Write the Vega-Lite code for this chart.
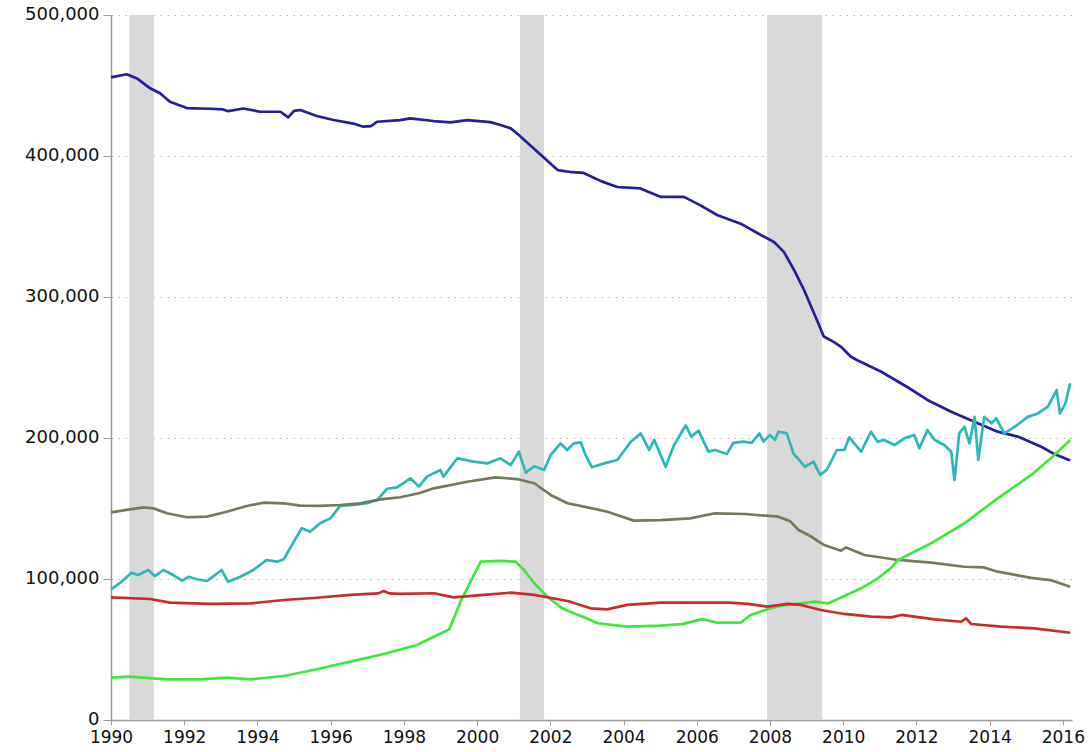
{
  "$schema": "https://vega.github.io/schema/vega-lite/v6.json",
  "autosize": {"type": "none"},
  "width": 961,
  "height": 705,
  "padding": {"left": 111, "top": 15, "right": 20, "bottom": 32},
  "background": "white",
  "config": {
    "view": {"stroke": null},
    "axis": {"labelFont": "DejaVu Sans", "labelColor": "#111111", "domainColor": "#9a9a9a", "tickColor": "#9a9a9a", "domainWidth": 1.5}
  },
  "datasets": {
    "rec": [
      {"start": 1990.5, "end": 1991.17},
      {"start": 2001.17, "end": 2001.83},
      {"start": 2007.92, "end": 2009.42}
    ],
    "series": [
      {"s": "A", "t": 1990.0, "v": 455800}, {"s": "A", "t": 1990.43, "v": 458000}, {"s": "A", "t": 1990.71, "v": 455000},
      {"s": "A", "t": 1991.07, "v": 448000}, {"s": "A", "t": 1991.34, "v": 444500}, {"s": "A", "t": 1991.61, "v": 438500},
      {"s": "A", "t": 1992.07, "v": 434000}, {"s": "A", "t": 1992.71, "v": 433500}, {"s": "A", "t": 1993.06, "v": 433000},
      {"s": "A", "t": 1993.2, "v": 431800}, {"s": "A", "t": 1993.61, "v": 433700}, {"s": "A", "t": 1994.07, "v": 431400},
      {"s": "A", "t": 1994.63, "v": 431400}, {"s": "A", "t": 1994.84, "v": 427400}, {"s": "A", "t": 1995.0, "v": 432000},
      {"s": "A", "t": 1995.17, "v": 432600}, {"s": "A", "t": 1995.62, "v": 428400}, {"s": "A", "t": 1996.08, "v": 425500},
      {"s": "A", "t": 1996.62, "v": 423000}, {"s": "A", "t": 1996.89, "v": 420800}, {"s": "A", "t": 1997.1, "v": 421200},
      {"s": "A", "t": 1997.27, "v": 424300}, {"s": "A", "t": 1997.9, "v": 425500}, {"s": "A", "t": 1998.17, "v": 426700},
      {"s": "A", "t": 1998.81, "v": 424800}, {"s": "A", "t": 1999.27, "v": 423900}, {"s": "A", "t": 1999.73, "v": 425500},
      {"s": "A", "t": 2000.36, "v": 424000}, {"s": "A", "t": 2000.64, "v": 422000}, {"s": "A", "t": 2000.92, "v": 419600},
      {"s": "A", "t": 2001.14, "v": 414900}, {"s": "A", "t": 2001.54, "v": 405500}, {"s": "A", "t": 2002.2, "v": 390000},
      {"s": "A", "t": 2002.6, "v": 388500}, {"s": "A", "t": 2002.91, "v": 388000}, {"s": "A", "t": 2003.4, "v": 382000},
      {"s": "A", "t": 2003.83, "v": 378000}, {"s": "A", "t": 2004.46, "v": 377000}, {"s": "A", "t": 2005.02, "v": 371000},
      {"s": "A", "t": 2005.65, "v": 371000}, {"s": "A", "t": 2006.1, "v": 365000}, {"s": "A", "t": 2006.57, "v": 358000},
      {"s": "A", "t": 2007.2, "v": 352000}, {"s": "A", "t": 2007.75, "v": 344000}, {"s": "A", "t": 2008.11, "v": 339000},
      {"s": "A", "t": 2008.38, "v": 332000}, {"s": "A", "t": 2008.66, "v": 319000}, {"s": "A", "t": 2008.93, "v": 305000},
      {"s": "A", "t": 2009.2, "v": 288600}, {"s": "A", "t": 2009.47, "v": 272000}, {"s": "A", "t": 2009.75, "v": 268000},
      {"s": "A", "t": 2009.94, "v": 264700}, {"s": "A", "t": 2010.21, "v": 257600}, {"s": "A", "t": 2010.4, "v": 255000},
      {"s": "A", "t": 2011.04, "v": 247000}, {"s": "A", "t": 2011.76, "v": 236000}, {"s": "A", "t": 2012.3, "v": 227000},
      {"s": "A", "t": 2012.95, "v": 218600}, {"s": "A", "t": 2013.58, "v": 211600}, {"s": "A", "t": 2014.22, "v": 204500},
      {"s": "A", "t": 2014.77, "v": 201000}, {"s": "A", "t": 2015.41, "v": 193800}, {"s": "A", "t": 2015.77, "v": 188600},
      {"s": "A", "t": 2016.2, "v": 184000},

      {"s": "B", "t": 1990.0, "v": 92700}, {"s": "B", "t": 1990.24, "v": 97000}, {"s": "B", "t": 1990.56, "v": 104500},
      {"s": "B", "t": 1990.74, "v": 102800}, {"s": "B", "t": 1991.02, "v": 106400}, {"s": "B", "t": 1991.2, "v": 102000},
      {"s": "B", "t": 1991.43, "v": 106400}, {"s": "B", "t": 1991.7, "v": 102800}, {"s": "B", "t": 1991.94, "v": 98800},
      {"s": "B", "t": 1992.12, "v": 101600}, {"s": "B", "t": 1992.35, "v": 99800}, {"s": "B", "t": 1992.62, "v": 98600},
      {"s": "B", "t": 1992.84, "v": 102800}, {"s": "B", "t": 1993.02, "v": 106400}, {"s": "B", "t": 1993.2, "v": 98000},
      {"s": "B", "t": 1993.53, "v": 101600}, {"s": "B", "t": 1993.89, "v": 106400}, {"s": "B", "t": 1994.25, "v": 113500},
      {"s": "B", "t": 1994.54, "v": 112300}, {"s": "B", "t": 1994.72, "v": 114000}, {"s": "B", "t": 1994.94, "v": 124000},
      {"s": "B", "t": 1995.21, "v": 136000}, {"s": "B", "t": 1995.44, "v": 133500}, {"s": "B", "t": 1995.71, "v": 139500},
      {"s": "B", "t": 1995.99, "v": 143000}, {"s": "B", "t": 1996.26, "v": 151800}, {"s": "B", "t": 1996.63, "v": 152500},
      {"s": "B", "t": 1996.99, "v": 153700}, {"s": "B", "t": 1997.27, "v": 156000}, {"s": "B", "t": 1997.54, "v": 164000},
      {"s": "B", "t": 1997.81, "v": 165000}, {"s": "B", "t": 1998.18, "v": 171400}, {"s": "B", "t": 1998.41, "v": 165500},
      {"s": "B", "t": 1998.63, "v": 172600}, {"s": "B", "t": 1999.0, "v": 177300}, {"s": "B", "t": 1999.08, "v": 172600},
      {"s": "B", "t": 1999.46, "v": 185600}, {"s": "B", "t": 1999.91, "v": 183200}, {"s": "B", "t": 2000.28, "v": 182000},
      {"s": "B", "t": 2000.64, "v": 185600}, {"s": "B", "t": 2000.92, "v": 180800}, {"s": "B", "t": 2001.14, "v": 190300},
      {"s": "B", "t": 2001.33, "v": 175400}, {"s": "B", "t": 2001.56, "v": 180000}, {"s": "B", "t": 2001.83, "v": 177300},
      {"s": "B", "t": 2002.01, "v": 188000}, {"s": "B", "t": 2002.28, "v": 196200}, {"s": "B", "t": 2002.46, "v": 191500},
      {"s": "B", "t": 2002.64, "v": 196200}, {"s": "B", "t": 2002.83, "v": 197000}, {"s": "B", "t": 2002.96, "v": 188000},
      {"s": "B", "t": 2003.14, "v": 179200}, {"s": "B", "t": 2003.47, "v": 182000}, {"s": "B", "t": 2003.83, "v": 184400},
      {"s": "B", "t": 2004.2, "v": 197400}, {"s": "B", "t": 2004.47, "v": 203300}, {"s": "B", "t": 2004.7, "v": 191500},
      {"s": "B", "t": 2004.84, "v": 198600}, {"s": "B", "t": 2005.15, "v": 179600}, {"s": "B", "t": 2005.38, "v": 195000},
      {"s": "B", "t": 2005.7, "v": 209000}, {"s": "B", "t": 2005.85, "v": 201000}, {"s": "B", "t": 2006.05, "v": 205200},
      {"s": "B", "t": 2006.32, "v": 190300}, {"s": "B", "t": 2006.5, "v": 191500}, {"s": "B", "t": 2006.64, "v": 190300},
      {"s": "B", "t": 2006.82, "v": 188600}, {"s": "B", "t": 2007.0, "v": 196600}, {"s": "B", "t": 2007.28, "v": 197400},
      {"s": "B", "t": 2007.5, "v": 196600}, {"s": "B", "t": 2007.71, "v": 203300}, {"s": "B", "t": 2007.82, "v": 197400},
      {"s": "B", "t": 2008.0, "v": 202100}, {"s": "B", "t": 2008.14, "v": 198600}, {"s": "B", "t": 2008.23, "v": 204500},
      {"s": "B", "t": 2008.46, "v": 203300}, {"s": "B", "t": 2008.64, "v": 189100}, {"s": "B", "t": 2008.96, "v": 179600},
      {"s": "B", "t": 2009.19, "v": 183200}, {"s": "B", "t": 2009.37, "v": 173800}, {"s": "B", "t": 2009.55, "v": 177300},
      {"s": "B", "t": 2009.83, "v": 191500}, {"s": "B", "t": 2010.03, "v": 191500}, {"s": "B", "t": 2010.17, "v": 200500},
      {"s": "B", "t": 2010.3, "v": 196200}, {"s": "B", "t": 2010.49, "v": 190300}, {"s": "B", "t": 2010.76, "v": 204500},
      {"s": "B", "t": 2010.94, "v": 197400}, {"s": "B", "t": 2011.12, "v": 198600}, {"s": "B", "t": 2011.4, "v": 195000},
      {"s": "B", "t": 2011.67, "v": 199800}, {"s": "B", "t": 2011.94, "v": 202100}, {"s": "B", "t": 2012.08, "v": 192700},
      {"s": "B", "t": 2012.3, "v": 205700}, {"s": "B", "t": 2012.5, "v": 198600}, {"s": "B", "t": 2012.76, "v": 195000},
      {"s": "B", "t": 2012.95, "v": 190300}, {"s": "B", "t": 2013.04, "v": 170200}, {"s": "B", "t": 2013.17, "v": 203300},
      {"s": "B", "t": 2013.31, "v": 208000}, {"s": "B", "t": 2013.45, "v": 196200}, {"s": "B", "t": 2013.59, "v": 215000},
      {"s": "B", "t": 2013.69, "v": 184400}, {"s": "B", "t": 2013.85, "v": 215000}, {"s": "B", "t": 2014.05, "v": 210400},
      {"s": "B", "t": 2014.18, "v": 214000}, {"s": "B", "t": 2014.4, "v": 203300}, {"s": "B", "t": 2014.69, "v": 208000},
      {"s": "B", "t": 2015.04, "v": 215000}, {"s": "B", "t": 2015.32, "v": 217400}, {"s": "B", "t": 2015.59, "v": 222200},
      {"s": "B", "t": 2015.83, "v": 234000}, {"s": "B", "t": 2015.92, "v": 217400}, {"s": "B", "t": 2016.07, "v": 224600},
      {"s": "B", "t": 2016.2, "v": 238800},

      {"s": "C", "t": 1990.0, "v": 147300}, {"s": "C", "t": 1990.43, "v": 149000}, {"s": "C", "t": 1990.89, "v": 150800},
      {"s": "C", "t": 1991.16, "v": 150100}, {"s": "C", "t": 1991.53, "v": 146600}, {"s": "C", "t": 1992.07, "v": 143800},
      {"s": "C", "t": 1992.62, "v": 144200}, {"s": "C", "t": 1993.16, "v": 147700}, {"s": "C", "t": 1993.71, "v": 151800},
      {"s": "C", "t": 1994.16, "v": 154100}, {"s": "C", "t": 1994.72, "v": 153700}, {"s": "C", "t": 1995.17, "v": 152000},
      {"s": "C", "t": 1995.71, "v": 151800}, {"s": "C", "t": 1996.26, "v": 152500}, {"s": "C", "t": 1996.81, "v": 153700},
      {"s": "C", "t": 1997.36, "v": 156500}, {"s": "C", "t": 1997.9, "v": 158000}, {"s": "C", "t": 1998.41, "v": 160800},
      {"s": "C", "t": 1998.82, "v": 164300}, {"s": "C", "t": 1999.73, "v": 169000}, {"s": "C", "t": 2000.5, "v": 172100},
      {"s": "C", "t": 2001.09, "v": 170900}, {"s": "C", "t": 2001.56, "v": 167900}, {"s": "C", "t": 2002.01, "v": 159600},
      {"s": "C", "t": 2002.47, "v": 153700}, {"s": "C", "t": 2002.92, "v": 151300}, {"s": "C", "t": 2003.56, "v": 147700},
      {"s": "C", "t": 2004.28, "v": 141400}, {"s": "C", "t": 2005.02, "v": 141800}, {"s": "C", "t": 2005.82, "v": 143000},
      {"s": "C", "t": 2006.5, "v": 146600}, {"s": "C", "t": 2007.32, "v": 146100}, {"s": "C", "t": 2008.23, "v": 144200},
      {"s": "C", "t": 2008.55, "v": 141000}, {"s": "C", "t": 2008.78, "v": 134800}, {"s": "C", "t": 2009.1, "v": 130500},
      {"s": "C", "t": 2009.48, "v": 124100}, {"s": "C", "t": 2009.94, "v": 120100}, {"s": "C", "t": 2010.08, "v": 122400},
      {"s": "C", "t": 2010.58, "v": 117000}, {"s": "C", "t": 2011.5, "v": 113500}, {"s": "C", "t": 2012.4, "v": 111600},
      {"s": "C", "t": 2013.31, "v": 108700}, {"s": "C", "t": 2013.85, "v": 108200}, {"s": "C", "t": 2014.22, "v": 105200},
      {"s": "C", "t": 2015.14, "v": 100800}, {"s": "C", "t": 2015.7, "v": 99000}, {"s": "C", "t": 2016.2, "v": 94500},

      {"s": "D", "t": 1990.0, "v": 30000}, {"s": "D", "t": 1990.52, "v": 30700}, {"s": "D", "t": 1991.52, "v": 28800},
      {"s": "D", "t": 1992.44, "v": 28800}, {"s": "D", "t": 1993.16, "v": 30000}, {"s": "D", "t": 1993.8, "v": 28800},
      {"s": "D", "t": 1994.72, "v": 31200}, {"s": "D", "t": 1995.62, "v": 36000}, {"s": "D", "t": 1996.54, "v": 41400},
      {"s": "D", "t": 1997.45, "v": 46800}, {"s": "D", "t": 1998.36, "v": 53200}, {"s": "D", "t": 1998.82, "v": 59100},
      {"s": "D", "t": 1999.24, "v": 64300}, {"s": "D", "t": 1999.57, "v": 85100}, {"s": "D", "t": 1999.84, "v": 99000},
      {"s": "D", "t": 2000.1, "v": 112300}, {"s": "D", "t": 2000.64, "v": 112800}, {"s": "D", "t": 2001.05, "v": 112300},
      {"s": "D", "t": 2001.28, "v": 106400}, {"s": "D", "t": 2001.56, "v": 97000}, {"s": "D", "t": 2001.92, "v": 87500},
      {"s": "D", "t": 2002.28, "v": 80000}, {"s": "D", "t": 2002.47, "v": 77500}, {"s": "D", "t": 2002.92, "v": 72800},
      {"s": "D", "t": 2003.3, "v": 68600}, {"s": "D", "t": 2004.1, "v": 66200}, {"s": "D", "t": 2005.02, "v": 66900},
      {"s": "D", "t": 2005.6, "v": 68000}, {"s": "D", "t": 2006.15, "v": 71500}, {"s": "D", "t": 2006.57, "v": 69000},
      {"s": "D", "t": 2007.2, "v": 69000}, {"s": "D", "t": 2007.47, "v": 74500}, {"s": "D", "t": 2007.93, "v": 78500},
      {"s": "D", "t": 2008.29, "v": 81000}, {"s": "D", "t": 2008.85, "v": 82700}, {"s": "D", "t": 2009.22, "v": 83900},
      {"s": "D", "t": 2009.58, "v": 82700}, {"s": "D", "t": 2010.03, "v": 87900}, {"s": "D", "t": 2010.49, "v": 93400},
      {"s": "D", "t": 2010.95, "v": 100500}, {"s": "D", "t": 2011.27, "v": 107000}, {"s": "D", "t": 2011.5, "v": 113500},
      {"s": "D", "t": 2012.4, "v": 125300}, {"s": "D", "t": 2013.31, "v": 139500}, {"s": "D", "t": 2014.22, "v": 157200},
      {"s": "D", "t": 2015.14, "v": 173800}, {"s": "D", "t": 2015.77, "v": 188000}, {"s": "D", "t": 2016.2, "v": 198600},

      {"s": "E", "t": 1990.0, "v": 87000}, {"s": "E", "t": 1991.07, "v": 85800}, {"s": "E", "t": 1991.61, "v": 83200},
      {"s": "E", "t": 1992.71, "v": 82300}, {"s": "E", "t": 1993.8, "v": 82700}, {"s": "E", "t": 1994.72, "v": 85100},
      {"s": "E", "t": 1995.62, "v": 86700}, {"s": "E", "t": 1996.54, "v": 88700}, {"s": "E", "t": 1997.3, "v": 89800},
      {"s": "E", "t": 1997.45, "v": 91500}, {"s": "E", "t": 1997.6, "v": 89800}, {"s": "E", "t": 1997.9, "v": 89400},
      {"s": "E", "t": 1998.82, "v": 89900}, {"s": "E", "t": 1999.36, "v": 87000}, {"s": "E", "t": 2000.18, "v": 88700},
      {"s": "E", "t": 2000.92, "v": 90300}, {"s": "E", "t": 2001.56, "v": 88700}, {"s": "E", "t": 2002.5, "v": 84200},
      {"s": "E", "t": 2003.1, "v": 79200}, {"s": "E", "t": 2003.55, "v": 78500}, {"s": "E", "t": 2004.1, "v": 81600},
      {"s": "E", "t": 2005.02, "v": 83200}, {"s": "E", "t": 2005.94, "v": 83200}, {"s": "E", "t": 2006.86, "v": 83200},
      {"s": "E", "t": 2007.39, "v": 82300}, {"s": "E", "t": 2007.93, "v": 80400}, {"s": "E", "t": 2008.48, "v": 82300},
      {"s": "E", "t": 2008.85, "v": 81600}, {"s": "E", "t": 2009.39, "v": 78000}, {"s": "E", "t": 2010.03, "v": 75200},
      {"s": "E", "t": 2010.76, "v": 73300}, {"s": "E", "t": 2011.31, "v": 72800}, {"s": "E", "t": 2011.59, "v": 74500},
      {"s": "E", "t": 2012.5, "v": 71400}, {"s": "E", "t": 2013.22, "v": 69700}, {"s": "E", "t": 2013.36, "v": 72100},
      {"s": "E", "t": 2013.49, "v": 68100}, {"s": "E", "t": 2014.31, "v": 66200}, {"s": "E", "t": 2015.22, "v": 65000},
      {"s": "E", "t": 2016.2, "v": 61900}
    ]
  },
  "layer": [
    {
      "data": {"name": "rec"},
      "mark": {"type": "rect", "color": "#d9d9d9"},
      "encoding": {
        "x": {"field": "start", "type": "quantitative", "scale": {"domain": [1990, 2016.25], "nice": false, "zero": false}},
        "x2": {"field": "end"}
      }
    },
    {
      "data": {"name": "series"},
      "mark": {"type": "line", "strokeWidth": 2.7, "interpolate": "linear", "strokeJoin": "round"},
      "encoding": {
        "x": {
          "field": "t", "type": "quantitative",
          "scale": {"domain": [1990, 2016.25], "nice": false, "zero": false},
          "axis": {"title": null, "values": [1990,1992,1994,1996,1998,2000,2002,2004,2006,2008,2010,2012,2014,2016], "format": "d", "grid": false, "labelFontSize": 17, "tickSize": 5, "labelPadding": 4, "labelFlush": false}
        },
        "y": {
          "field": "v", "type": "quantitative",
          "scale": {"domain": [0, 500000], "nice": false},
          "axis": {"title": null, "values": [0,100000,200000,300000,400000,500000], "format": ",d", "grid": true, "gridColor": "#b5b5b5", "gridDash": [1.5, 5.5], "gridWidth": 1.2, "labelFontSize": 18, "tickSize": 8, "labelPadding": 4, "labelBaseline": "bottom", "labelOffset": 8}
        },
        "color": {
          "field": "s", "type": "nominal",
          "scale": {"domain": ["C", "E", "D", "B", "A"], "range": ["#6f7d5c", "#cc2a2f", "#3fe83a", "#2bb8b8", "#24209c"]},
          "legend": null
        },
        "order": {"field": "t", "type": "quantitative"}
      }
    }
  ]
}
